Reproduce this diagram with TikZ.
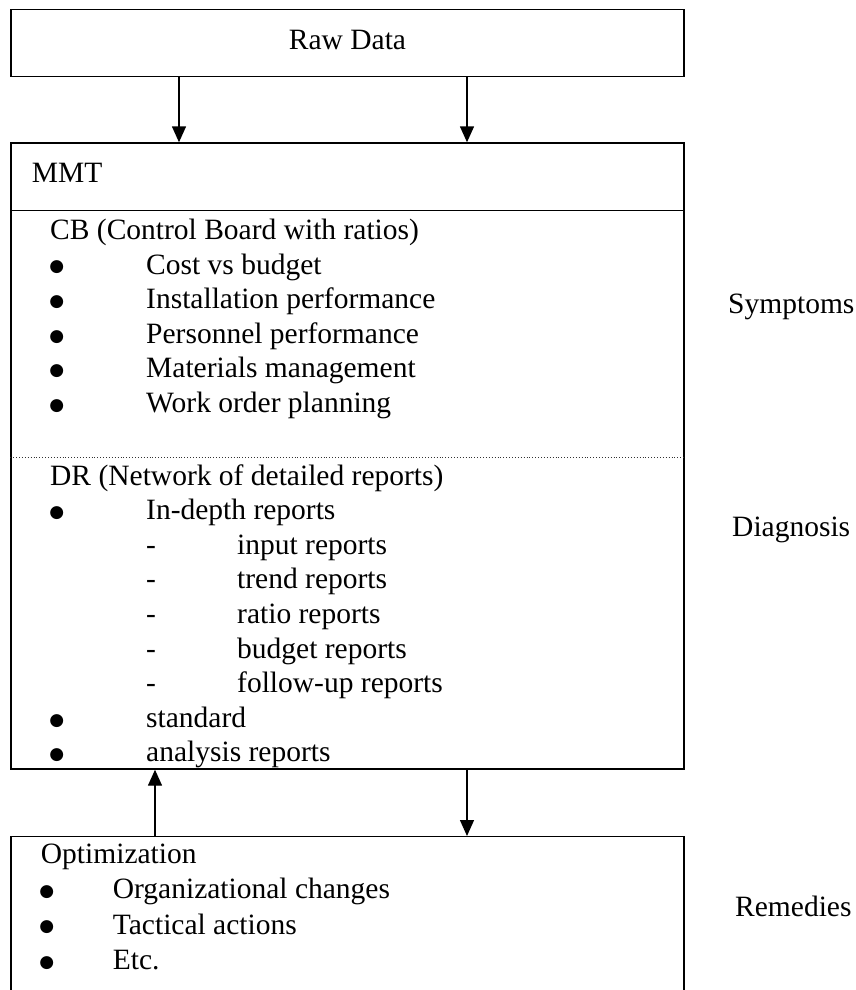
\documentclass[tikz,border=0pt]{standalone}
\usepackage{fontspec}
\setmainfont{Liberation Serif}
\newfontfamily\bulfont{DejaVu Sans}
\usetikzlibrary{arrows.meta}
\begin{document}
\begin{tikzpicture}[x=1pt,y=-1pt,
  box/.style={draw,line width=1.4pt,rectangle,inner sep=0pt},
  txt/.style={anchor=base west,inner sep=0pt,font=\fontsize{29.5}{35}\selectfont},
  ctxt/.style={anchor=base,inner sep=0pt,font=\fontsize{29.5}{35}\selectfont},
  bul/.style={anchor=center,inner sep=0pt,font=\bulfont\fontsize{17}{19}\selectfont},
  arr/.style={line width=1.4pt,-{Triangle[width=14pt,length=16pt]}}]
\useasboundingbox (0,0) rectangle (855,990);
\fill[white] (0,0) rectangle (855,990);
% boxes
\node[box,minimum width=673pt,minimum height=67pt] (raw) at (347.5,43.2) {};
\node[box,minimum width=673pt,minimum height=626pt] (mmt) at (347.5,456) {};
\node[box,minimum width=673pt,minimum height=200pt] (opt) at (347.5,936.7) {};
% header line and dotted divider
\coordinate (h1) at (0,210.7);
\coordinate (h2) at (0,457);
\draw[line width=1.4pt] (mmt.west |- h1) -- (mmt.east |- h1);
\draw[line width=0.9pt,dotted,black!80] (mmt.west |- h2) -- (mmt.east |- h2);
% arrows
\coordinate (c1) at (179,0);
\coordinate (c2) at (467,0);
\coordinate (c3) at (155,0);
\draw[arr] (raw.south -| c1) -- (mmt.north -| c1);
\draw[arr] (raw.south -| c2) -- (mmt.north -| c2);
\draw[arr] (opt.north -| c3) -- (mmt.south -| c3);
\draw[arr] (mmt.south -| c2) -- (opt.north -| c2);
% texts
\node[ctxt] (rawt) at (347.5,50) {Raw Data};
\node[txt] (mmtt) at (31.7,182) {MMT};
\node[txt] (cb) at (50,239.3) {CB (Control Board with ratios)};
\node[bul] (b1) at (56.7,267.5) {●};
\node[txt] (i1) at (146,274) {Cost vs budget};
\node[bul] (b2) at (56.7,302.1) {●};
\node[txt] (i2) at (146,308.6) {Installation performance};
\node[bul] (b3) at (56.7,336.7) {●};
\node[txt] (i3) at (146,343.2) {Personnel performance};
\node[bul] (b4) at (56.7,371.3) {●};
\node[txt] (i4) at (146,377.8) {Materials management};
\node[bul] (b5) at (56.7,405.9) {●};
\node[txt] (i5) at (146,412.4) {Work order planning};
\node[txt] (dr) at (50,485) {DR (Network of detailed reports)};
\node[bul] (b6) at (56.7,513.1) {●};
\node[txt] (i6) at (146,519.6) {In-depth reports};
\node[txt] (d1) at (146,554.2) {-};
\node[txt] (s1) at (237,554.2) {input reports};
\node[txt] (d2) at (146,588.8) {-};
\node[txt] (s2) at (237,588.8) {trend reports};
\node[txt] (d3) at (146,623.4) {-};
\node[txt] (s3) at (237,623.4) {ratio reports};
\node[txt] (d4) at (146,658) {-};
\node[txt] (s4) at (237,658) {budget reports};
\node[txt] (d5) at (146,692.6) {-};
\node[txt] (s5) at (237,692.6) {follow-up reports};
\node[bul] (b7) at (56.7,720.7) {●};
\node[txt] (i7) at (146,727.2) {standard};
\node[bul] (b8) at (56.7,755.3) {●};
\node[txt] (i8) at (146,761.8) {analysis reports};
\node[txt] (ot) at (40.7,863.5) {Optimization};
\node[bul] (b9) at (46.7,892) {●};
\node[txt] (o1) at (112.7,898.5) {Organizational changes};
\node[bul] (b10) at (46.7,927.5) {●};
\node[txt] (o2) at (112.7,934) {Tactical actions};
\node[bul] (b11) at (46.7,963) {●};
\node[txt] (o3) at (112.7,969.5) {Etc.};
\node[txt] (sym) at (728,313) {Symptoms};
\node[txt] (dia) at (732,536) {Diagnosis};
\node[txt] (rem) at (735,916.7) {Remedies};
\end{tikzpicture}
\end{document}
